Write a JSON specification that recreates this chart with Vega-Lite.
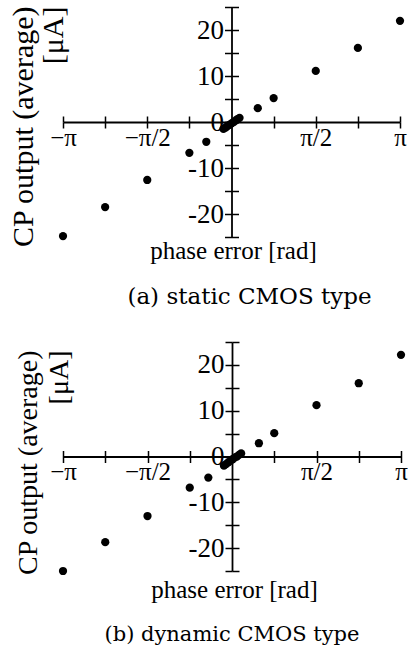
{
  "$schema": "https://vega.github.io/schema/vega-lite/v6.json",
  "padding": {"left": 8, "top": -7, "right": 0, "bottom": 0},
  "background": "white",
  "spacing": 19,
  "config": {
    "view": {"stroke": null},
    "axis": {"grid": false, "domainColor": "black", "tickColor": "black", "labelColor": "black", "titleColor": "black", "labelFont": "Liberation Serif", "titleFont": "Liberation Serif", "titleFontWeight": "normal", "labelFlush": false, "labelOverlap": false, "tickCap": "butt"},
    "title": {"font": "DejaVu Serif", "fontWeight": "normal", "color": "black"}
  },
  "datasets": {
    "a": [
      {"phase": -3.1416, "current": -24.8},
      {"phase": -2.3562, "current": -18.5},
      {"phase": -1.5708, "current": -12.6},
      {"phase": -0.7854, "current": -6.7},
      {"phase": -0.47, "current": -4.3},
      {"phase": -0.15, "current": -1.5},
      {"phase": -0.11, "current": -1.2},
      {"phase": -0.075, "current": -0.9},
      {"phase": -0.04, "current": -0.6},
      {"phase": 0.0, "current": -0.3},
      {"phase": 0.04, "current": 0.0},
      {"phase": 0.075, "current": 0.3},
      {"phase": 0.11, "current": 0.6},
      {"phase": 0.15, "current": 0.9},
      {"phase": 0.49, "current": 3.0},
      {"phase": 0.7854, "current": 5.2},
      {"phase": 1.5708, "current": 11.1},
      {"phase": 2.3562, "current": 16.1},
      {"phase": 3.1416, "current": 22.0}
    ],
    "b": [
      {"phase": -3.1416, "current": -25.0},
      {"phase": -2.3562, "current": -18.7},
      {"phase": -1.5708, "current": -13.0},
      {"phase": -0.7854, "current": -6.8},
      {"phase": -0.44, "current": -4.6},
      {"phase": -0.15, "current": -2.0},
      {"phase": -0.11, "current": -1.65},
      {"phase": -0.07, "current": -1.3},
      {"phase": -0.03, "current": -0.95},
      {"phase": 0.01, "current": -0.6},
      {"phase": 0.05, "current": -0.25},
      {"phase": 0.09, "current": 0.0},
      {"phase": 0.13, "current": 0.35},
      {"phase": 0.17, "current": 0.66},
      {"phase": 0.5, "current": 2.9},
      {"phase": 0.7854, "current": 5.1},
      {"phase": 1.5708, "current": 11.2},
      {"phase": 2.3562, "current": 16.0},
      {"phase": 3.1416, "current": 22.2}
    ]
  },
  "vconcat": [
    {
      "width": 337,
      "height": 230,
      "title": {"text": "(a) static CMOS type", "orient": "bottom", "anchor": "middle", "frame": "group", "fontSize": 23, "offset": 23, "dx": 18},
      "data": {"name": "a"},
      "resolve": {"axis": {"x": "independent", "y": "independent"}},
      "layer": [
        {
          "mark": {"type": "point", "filled": true, "size": 68, "color": "black", "opacity": 1, "clip": false},
          "encoding": {
            "x": {"field": "phase", "type": "quantitative", "scale": {"domain": [-3.141592653589793, 3.141592653589793], "nice": false, "zero": false},
              "axis": {"orient": "bottom", "offset": -115, "values": [-3.141592653589793, -2.356194490192345, -1.5707963267948966, -0.7853981633974483, 0.7853981633974483, 1.5707963267948966, 2.356194490192345, 3.141592653589793],
                "labelExpr": "abs(datum.value) > 3 ? (datum.value < 0 ? '−π' : 'π') : (abs(abs(datum.value) - 1.5708) < 0.01 ? (datum.value < 0 ? '−π/2' : 'π/2') : '')",
                "tickSize": 6, "tickWidth": 1.5, "domainWidth": 1.8, "labelFontSize": 25, "labelBaseline": "alphabetic", "labelPadding": 17,
                "title": "phase error [rad]", "titleFontSize": 25, "titleX": 170, "titleY": 136, "titleAlign": "center", "titleBaseline": "alphabetic", "titleAnchor": "middle"}},
            "y": {"field": "current", "type": "quantitative", "scale": {"domain": [-25, 25], "nice": false, "zero": false},
              "axis": {"orient": "left", "offset": -168.5, "values": [-25, -20, -15, -10, -5, 0, 5, 10, 15, 20, 25],
                "labelExpr": "(datum.value % 10 == 0 && abs(datum.value) < 25) ? toString(datum.value) : ''",
                "tickSize": 7, "tickWidth": 1.5, "domainWidth": 1.8, "labelFontSize": 27, "labelBaseline": "middle", "labelPadding": 1,
                "title": ["CP output (average)", "[μA]"], "titleFontSize": 30, "titleAngle": 270, "titleX": -199.5, "titleY": -1, "titleAlign": "right", "titleBaseline": "alphabetic", "titleLineHeight": 30}}
          }
        },
        {
          "mark": {"type": "point", "filled": true, "size": 68, "opacity": 0},
          "encoding": {
            "x": {"field": "phase", "type": "quantitative",
              "axis": {"orient": "top", "offset": -115, "values": [-3.141592653589793, -2.356194490192345, -1.5707963267948966, -0.7853981633974483, 0.7853981633974483, 1.5707963267948966, 2.356194490192345, 3.141592653589793],
                "labels": false, "domain": false, "tickSize": 6, "tickWidth": 1.5, "title": null}},
            "y": {"field": "current", "type": "quantitative",
              "axis": {"orient": "right", "offset": -168.5, "values": [-25, -20, -15, -10, -5, 0, 5, 10, 15, 20, 25],
                "labels": false, "domain": false, "tickSize": 7, "tickWidth": 1.5, "title": null}}
          }
        }
      ]
    },
    {
      "width": 338,
      "height": 229,
      "title": {"text": "(b) dynamic CMOS type", "orient": "bottom", "anchor": "middle", "frame": "group", "fontSize": 21, "offset": 21},
      "data": {"name": "b"},
      "resolve": {"axis": {"x": "independent", "y": "independent"}},
      "layer": [
        {
          "mark": {"type": "point", "filled": true, "size": 68, "color": "black", "opacity": 1, "clip": false},
          "encoding": {
            "x": {"field": "phase", "type": "quantitative", "scale": {"domain": [-3.141592653589793, 3.141592653589793], "nice": false, "zero": false},
              "axis": {"orient": "bottom", "offset": -114.5, "values": [-3.141592653589793, -2.356194490192345, -1.5707963267948966, -0.7853981633974483, 0.7853981633974483, 1.5707963267948966, 2.356194490192345, 3.141592653589793],
                "labelExpr": "abs(datum.value) > 3 ? (datum.value < 0 ? '−π' : 'π') : (abs(abs(datum.value) - 1.5708) < 0.01 ? (datum.value < 0 ? '−π/2' : 'π/2') : '')",
                "tickSize": 6, "tickWidth": 1.5, "domainWidth": 1.8, "labelFontSize": 25, "labelBaseline": "alphabetic", "labelPadding": 17,
                "title": "phase error [rad]", "titleFontSize": 25, "titleX": 171, "titleY": 141, "titleAlign": "center", "titleBaseline": "alphabetic", "titleAnchor": "middle"}},
            "y": {"field": "current", "type": "quantitative", "scale": {"domain": [-25, 25], "nice": false, "zero": false},
              "axis": {"orient": "left", "offset": -169, "values": [-25, -20, -15, -10, -5, 0, 5, 10, 15, 20, 25],
                "labelExpr": "(datum.value % 10 == 0 && abs(datum.value) < 25) ? toString(datum.value) : ''",
                "tickSize": 7, "tickWidth": 1.5, "domainWidth": 1.8, "labelFontSize": 27, "labelBaseline": "middle", "labelPadding": 1,
                "title": ["CP output (average)", "[μA]"], "titleFontSize": 28, "titleAngle": 270, "titleX": -196, "titleY": 8, "titleAlign": "right", "titleBaseline": "alphabetic", "titleLineHeight": 31}}
          }
        },
        {
          "mark": {"type": "point", "filled": true, "size": 68, "opacity": 0},
          "encoding": {
            "x": {"field": "phase", "type": "quantitative",
              "axis": {"orient": "top", "offset": -114.5, "values": [-3.141592653589793, -2.356194490192345, -1.5707963267948966, -0.7853981633974483, 0.7853981633974483, 1.5707963267948966, 2.356194490192345, 3.141592653589793],
                "labels": false, "domain": false, "tickSize": 6, "tickWidth": 1.5, "title": null}},
            "y": {"field": "current", "type": "quantitative",
              "axis": {"orient": "right", "offset": -169, "values": [-25, -20, -15, -10, -5, 0, 5, 10, 15, 20, 25],
                "labels": false, "domain": false, "tickSize": 7, "tickWidth": 1.5, "title": null}}
          }
        }
      ]
    }
  ]
}
